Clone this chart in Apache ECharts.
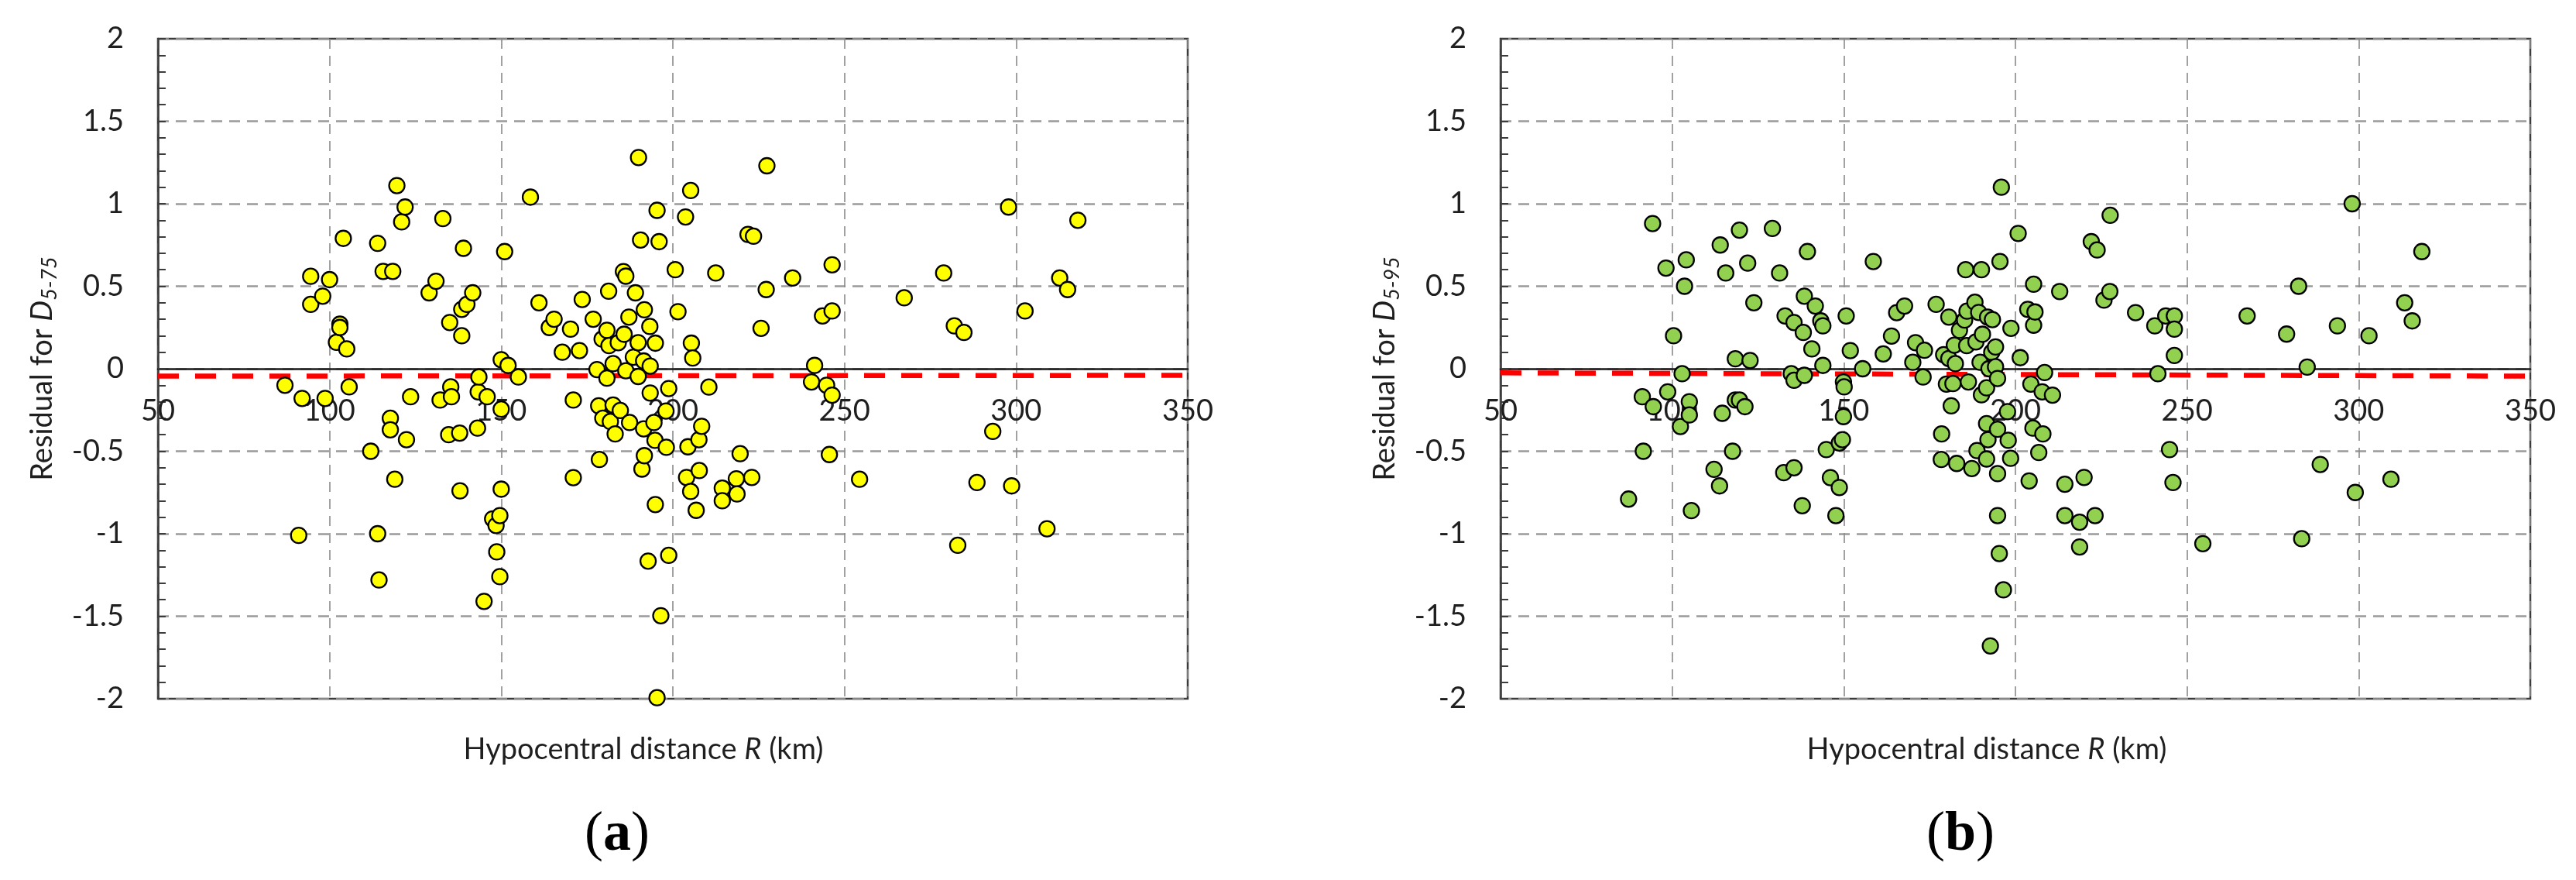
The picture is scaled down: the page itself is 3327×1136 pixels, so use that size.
<!DOCTYPE html>
<html>
<head>
<meta charset="utf-8">
<title>Residuals vs hypocentral distance</title>
<script src="https://cdn.jsdelivr.net/npm/echarts@6/dist/echarts.min.js"></script>
<style>
  html, body { margin: 0; padding: 0; background: #fff; }
  #main { width: 3327px; height: 1136px; }
</style>
</head>
<body>
<div id="main"></div>
<script>
// panel (a): residual for D5-75
const distA = [87, 91, 92, 94.5, 94.5, 98, 98.7, 100, 102, 103, 103, 104, 105, 105.7, 112, 114, 114, 114.4, 115.6, 117.7,
  117.7, 118.4, 119, 119.6, 121, 122, 122.4, 123.6, 129, 131, 132.2, 133, 134.7, 135, 135.3, 135.5, 137.9, 138, 138.5, 138.5,
  139, 140, 141.7, 143.1, 143.3, 143.5, 145, 145.9, 147.5, 148.5, 148.7, 149.6, 149.6, 150, 150, 150, 151, 152, 155, 158.5,
  161, 164, 165.4, 167.8, 170.2, 171, 171, 172.8, 173.6, 176.8, 177.9, 178.4, 178.6, 179.4, 179.6, 180.8, 180.8, 181.3, 181.4, 181.8,
  182.6, 182.6, 183.2, 184.1, 184.7, 185.6, 185.8, 186.3, 186.3, 187.2, 187.4, 188.5, 189.1, 189.9, 189.9, 190, 190.6, 191, 191.5, 191.5,
  191.7, 191.7, 192.8, 193.3, 193.4, 193.4, 194.5, 194.8, 194.9, 194.9, 195.4, 195.4, 196, 196.5, 198, 198.1, 198.8, 198.8, 200.7, 201.5,
  203.7, 204, 204.4, 205.2, 205.2, 205.4, 205.8, 206.8, 207.6, 207.7, 208.4, 210.5, 212.5, 214.4, 214.4, 218.5, 218.7, 219.6, 221.9, 223,
  223.5, 225.7, 227.2, 227.4, 234.9, 240.4, 241.3, 243.6, 244.8, 245.6, 246.4, 246.4, 246.4, 254.4, 267.4, 278.9, 282, 283, 284.8, 288.6,
  293.2, 297.8, 298.7, 302.6, 309, 312.7, 315, 318];
const residA = [-0.10, -1.01, -0.18, 0.56, 0.39, 0.44, -0.18, 0.54, 0.16, 0.27, 0.25, 0.79, 0.12, -0.11, -0.50, 0.76, -1.00, -1.28, 0.59, -0.30,
  -0.37, 0.59, -0.67, 1.11, 0.89, 0.98, -0.43, -0.17, 0.46, 0.53, -0.19, 0.91, -0.40, 0.28, -0.11, -0.17, -0.39, -0.74, 0.36, 0.20,
  0.73, 0.39, 0.46, -0.36, -0.14, -0.05, -1.41, -0.17, -0.91, -0.95, -1.11, -0.89, -1.26, 0.055, -0.245, -0.73, 0.71, 0.02, -0.05, 1.04,
  0.40, 0.25, 0.30, 0.10, 0.24, -0.19, -0.66, 0.11, 0.42, 0.30, -0.005, -0.225, -0.55, 0.18, -0.30, 0.233, -0.057, 0.47, 0.14, -0.32,
  0.031, -0.22, -0.395, 0.158, -0.253, 0.589, 0.209, 0.561, -0.012, 0.313, -0.326, 0.07, 0.46, 0.158, -0.047, 1.28, 0.78, -0.608, 0.047, -0.364,
  0.357, -0.527, -1.166, 0.256, 0.016, -0.147, -0.326, -0.434, 0.155, -0.823, 0.96, -1.994, 0.77, -1.497, -0.256, -0.476, -0.12, -1.131, 0.60, 0.346,
  0.92, -0.659, -0.473, 1.08, -0.744, 0.155, 0.065, -0.858, -0.43, -0.617, -0.349, -0.111, 0.58, -0.724, -0.80, -0.667, -0.759, -0.515, 0.814, -0.659,
  0.803, 0.245, 0.48, 1.23, 0.55, -0.08, 0.02, 0.32, -0.10, -0.52, 0.63, 0.35, -0.16, -0.67, 0.43, 0.58, 0.26, -1.07, 0.22, -0.69,
  -0.38, 0.98, -0.71, 0.35, -0.97, 0.55, 0.48, 0.90];

// panel (b): residual for D5-95
const distB = [87.3, 91.3, 91.6, 94.3, 94.5, 98.2, 98.7, 100.4, 102.4, 102.9, 103.6, 104.1, 105, 105, 105.6, 112.2, 113.8, 114, 114.6, 115.6,
  117.6, 118.4, 118.4, 119.6, 119.6, 121.2, 122, 122.7, 123.8, 129.2, 131.3, 132.5, 132.9, 134.7, 135.5, 135.5, 135.5, 137.9, 138.2, 138.5,
  138.5, 139.4, 140.7, 141.7, 143.3, 143.9, 143.9, 144.9, 146.1, 147.7, 148.7, 148.7, 149.6, 149.9, 149.9, 150.1, 150.7, 151.9, 155.5, 158.6,
  161.5, 163.9, 165.4, 167.7, 170.1, 170.9, 173.1, 173.5, 176.9, 178.4, 178.5, 179.1, 179.9, 180.6, 180.6, 181.3, 181.8, 182.2, 182.5, 182.9,
  183.7, 185.2, 185.5, 185.8, 185.9, 186.3, 187.3, 188.2, 188.5, 188.8, 189.3, 189.7, 190.1, 190.1, 190.4, 191.6, 191.6, 191.6, 191.9, 192,
  192.3, 192.7, 193.1, 193.3, 194.2, 194.2, 194.8, 194.8, 194.8, 194.8, 195.3, 195.5, 195.9, 196.5, 197.7, 197.9, 198.6, 198.7, 200.8, 201.4,
  203.6, 204, 204.5, 205.1, 205.3, 205.3, 205.7, 206.8, 207.8, 208, 208.5, 210.8, 212.9, 214.4, 214.4, 218.7, 218.7, 220, 222.1, 223.2,
  223.8, 225.8, 227.5, 227.6, 235, 240.6, 241.5, 243.8, 244.9, 245.9, 246.3, 246.3, 246.3, 254.6, 267.5, 279, 282.5, 283.4, 285, 288.8,
  293.8, 298.1, 299, 303, 309.4, 313.4, 315.6, 318.4];
const residB = [-0.79, -0.17, -0.50, 0.88, -0.23, 0.61, -0.14, 0.20, -0.35, -0.03, 0.50, 0.66, -0.20, -0.28, -0.86, -0.61, -0.71, 0.75, -0.27, 0.58,
  -0.50, 0.06, -0.19, 0.84, -0.19, -0.23, 0.64, 0.05, 0.40, 0.85, 0.58, -0.63, 0.32, -0.03, 0.28, -0.07, -0.60, -0.83, 0.22, 0.44,
  -0.04, 0.71, 0.12, 0.38, 0.29, 0.26, 0.02, -0.49, -0.66, -0.89, -0.72, -0.45, -0.43, -0.08, -0.29, -0.11, 0.32, 0.11, 0.00, 0.65,
  0.09, 0.198, 0.34, 0.38, 0.039, 0.158, -0.05, 0.112, 0.39, -0.55, -0.395, 0.085, -0.093, 0.313, 0.062, -0.225, -0.09, 0.143, 0.031, -0.574,
  0.233, 0.295, 0.60, 0.14, 0.349, -0.08, -0.605, 0.403, 0.163, -0.496, 0.341, 0.039, 0.60, -0.158, 0.209, -0.116, -0.333, -0.547, 0.313, -0.43,
  0.0, -1.68, 0.10, 0.298, 0.132, 0.012, -0.059, -0.367, -0.636, -0.89, -1.12, 0.65, 1.10, -1.34, -0.26, -0.434, -0.543, 0.245, 0.82, 0.067,
  0.36, -0.68, -0.093, -0.36, 0.512, 0.264, 0.344, -0.508, -0.14, -0.395, -0.023, -0.16, 0.468, -0.70, -0.89, -0.93, -1.08, -0.659, 0.77, -0.89,
  0.72, 0.416, 0.468, 0.93, 0.34, 0.26, -0.03, 0.32, -0.49, -0.69, 0.32, 0.24, 0.08, -1.06, 0.32, 0.21, 0.50, -1.03, 0.01, -0.58,
  0.26, 1.00, -0.75, 0.20, -0.67, 0.40, 0.29, 0.71];

// mean residual lines (red dashed)
const trendX = [50, 350];
const trendA = [-0.045, -0.040];
const trendB = [-0.025, -0.045];

const pairs = (xs, ys) => xs.map((x, i) => [x, ys[i]]);

const FONT = 'Lato, "Open Sans", sans-serif';
const TXT = '#1f1f1f';
const GRID_TOP = 50;
const GRID_H = 852;

function makeX(idx) {
  return {
    gridIndex: idx,
    type: 'value',
    min: 50,
    max: 350,
    interval: 50,
    position: 'bottom',
    // labels sit on the y = 0 line, like the Excel original
    offset: -GRID_H / 2,
    axisLine: { show: true, onZero: false, lineStyle: { color: '#1a1a1a', width: 2.5 } },
    axisTick: { show: false },
    axisLabel: { fontSize: 38, fontFamily: FONT, color: TXT, margin: 36 },
    splitLine: { show: true, lineStyle: { color: '#8a8a8a', width: 1.6, type: [13, 9] } }
  }
}

function makeY(idx, sub) {
  return {
    gridIndex: idx,
    type: 'value',
    min: -2,
    max: 2,
    interval: 0.5,
    axisLine: { show: true, lineStyle: { color: '#3c3c3c', width: 2.5 } },
    axisTick: { show: true, inside: true, length: 10, lineStyle: { color: '#3c3c3c', width: 2 } },
    minorTick: { show: true, splitNumber: 5, length: 10, lineStyle: { color: '#3c3c3c', width: 2 } },
    axisLabel: { fontSize: 38, fontFamily: FONT, color: TXT, margin: 44 },
    splitLine: { show: true, lineStyle: { color: '#9a9a9a', width: 2.5, type: [14, 9] } },
    name: '{n|Residual for }{d|D}{s|' + sub + '}',
    nameLocation: 'middle',
    nameRotate: 90,
    nameGap: 126,
    nameTextStyle: {
      rich: {
        n: { fontSize: 38, fontFamily: FONT, color: TXT, lineHeight: 46 },
        d: { fontSize: 38, fontFamily: FONT, color: TXT, fontStyle: 'italic', lineHeight: 46 },
        s: { fontSize: 27, fontFamily: FONT, color: TXT, fontStyle: 'italic', padding: [20, 0, 0, 0] }
      }
    }
  }
}

function dots(idx, data, fill) {
  return {
    type: 'scatter',
    xAxisIndex: idx,
    yAxisIndex: idx,
    data: data,
    symbol: 'circle',
    symbolSize: 20,
    itemStyle: { color: fill, borderColor: '#000', borderWidth: 2.3, opacity: 1 },
    z: 5
  }
}

function redLine(idx, ys) {
  return {
    type: 'line',
    xAxisIndex: idx,
    yAxisIndex: idx,
    data: pairs(trendX, ys),
    showSymbol: false,
    symbol: 'none',
    lineStyle: { color: '#ff0000', width: 6.5, type: [27, 21] },
    z: 3
  }
}

function axisTitle(cx) {
  return {
    type: 'text',
    x: cx,
    y: 968,
    style: {
      text: 'Hypocentral distance {i|R} (km)',
      font: '38px ' + FONT,
      fill: TXT,
      align: 'center',
      verticalAlign: 'middle',
      rich: { i: { fontStyle: 'italic', fontSize: 38, fontFamily: FONT, fill: TXT } }
    }
  }
}

function panelTag(cx, letter) {
  return {
    type: 'text',
    x: cx,
    y: 1078,
    style: {
      text: '({b|' + letter + '})',
      font: '72px "Liberation Serif", "DejaVu Serif", serif',
      fill: '#000',
      align: 'center',
      verticalAlign: 'middle',
      rich: { b: { fontWeight: 'bold', fontSize: 72, fontFamily: '"Liberation Serif", serif', fill: '#000' } }
    }
  }
}

const chart = echarts.init(document.getElementById('main'));

const option = {
  backgroundColor: '#fff',
  animation: false,
  grid: [
    { left: 204, top: GRID_TOP, width: 1330, height: GRID_H, show: true, borderColor: '#3c3c3c', borderWidth: 2.5, backgroundColor: 'transparent' },
    { left: 1938, top: GRID_TOP, width: 1330, height: GRID_H, show: true, borderColor: '#3c3c3c', borderWidth: 2.5, backgroundColor: 'transparent' }
  ],
  xAxis: [makeX(0), makeX(1)],
  yAxis: [makeY(0, '5-75'), makeY(1, '5-95')],
  series: [
    redLine(0, trendA),
    redLine(1, trendB),
    dots(0, pairs(distA, residA), '#ffff00'),
    dots(1, pairs(distB, residB), '#92d050')
  ],
  graphic: [
    axisTitle(831),
    axisTitle(2566),
    panelTag(797, 'a'),
    panelTag(2532, 'b')
  ]
};

chart.setOption(option);
</script>
</body>
</html>
